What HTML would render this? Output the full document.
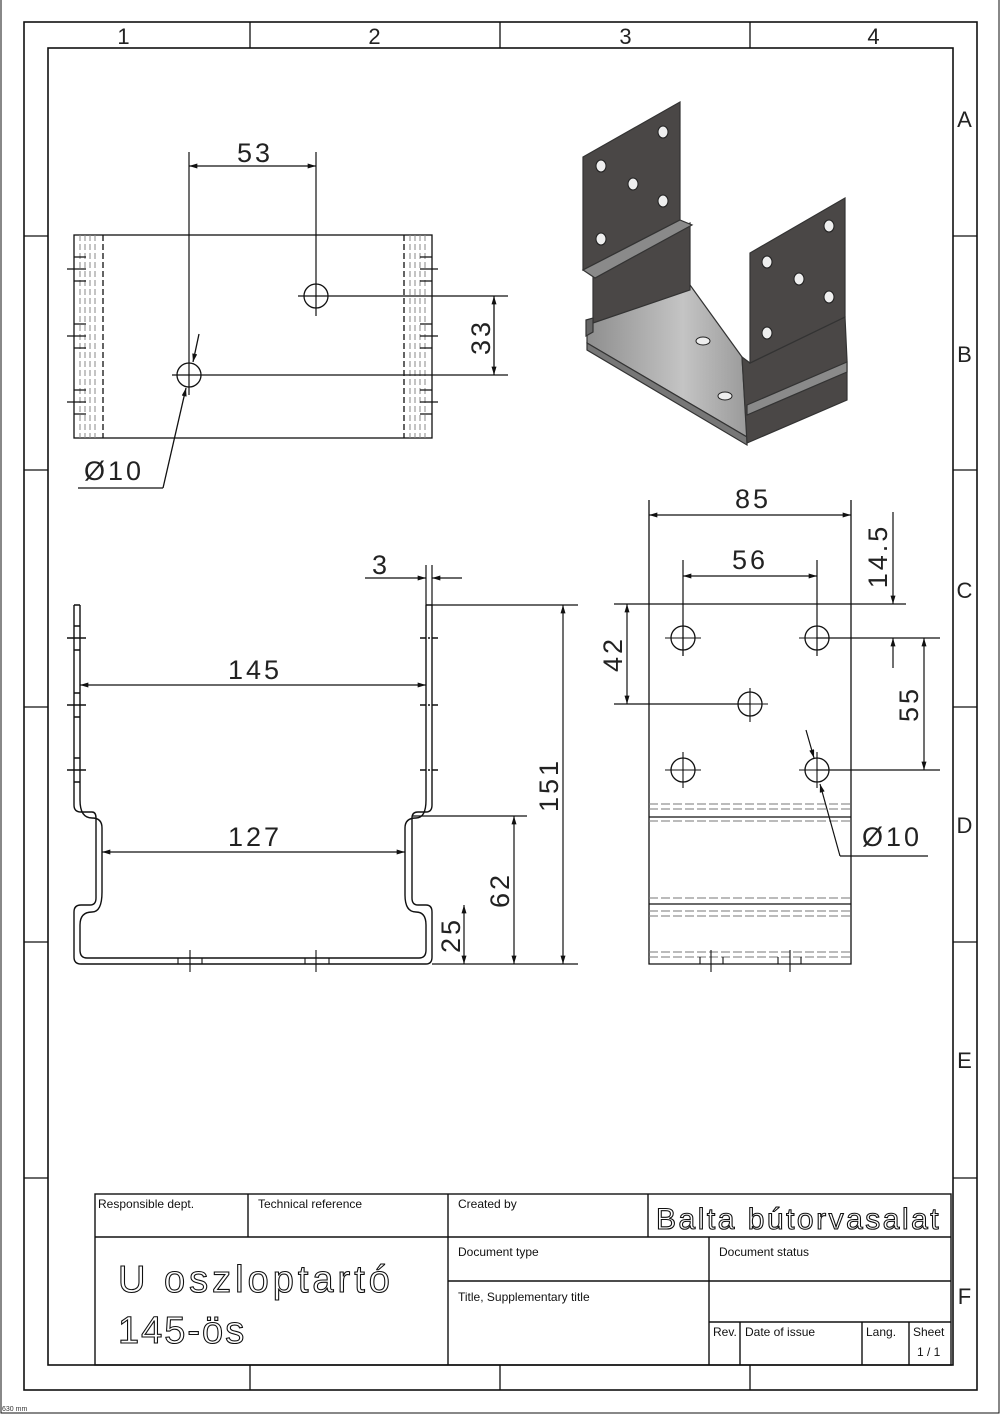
<!DOCTYPE html>
<html><head><meta charset="utf-8"><style>
html,body{margin:0;padding:0;background:#fff}
svg{display:block}
text{font-family:"Liberation Sans",sans-serif}
.d{font-size:27px;fill:#222;letter-spacing:3px}
.s{font-size:12px;fill:#111;font-family:"Liberation Sans Narrow","Liberation Sans",sans-serif}
</style></head><body>
<svg width="1000" height="1414" viewBox="0 0 1000 1414" xmlns="http://www.w3.org/2000/svg">
<defs>
<marker id="a" viewBox="0 0 10 6" refX="10" refY="3" markerWidth="12" markerHeight="5" orient="auto-start-reverse" markerUnits="userSpaceOnUse"><path d="M0,0 L10,3 L0,6z" fill="#111"/></marker>
<linearGradient id="fl" x1="0" y1="0" x2="1" y2="0"><stop offset="0" stop-color="#8e8e8e"/><stop offset="0.6" stop-color="#c4c4c4"/><stop offset="1" stop-color="#9a9a9a"/></linearGradient>
</defs>
<g fill="none" stroke="#111" stroke-width="1.3">
<path d="M1,0 V1413 H999 V0" stroke-width="1"/>
<rect x="24" y="22" width="953" height="1368" stroke-width="1.6"/>
<rect x="48" y="48" width="905" height="1317" stroke-width="1.6"/>
<path d="M250,22V48M500,22V48M750,22V48M250,1365V1390M500,1365V1390M750,1365V1390"/>
<path d="M24,236H48M24,470H48M24,707H48M24,942H48M24,1178H48M953,236H977M953,470H977M953,707H977M953,942H977M953,1178H977"/>
</g>
<g class="d" style="font-size:22px" text-anchor="middle">
<text x="125" y="44">1</text><text x="376" y="44">2</text><text x="627" y="44">3</text><text x="875" y="44">4</text>
<text x="966" y="127">A</text><text x="966" y="362">B</text><text x="966" y="598">C</text><text x="966" y="833">D</text><text x="966" y="1068">E</text><text x="966" y="1304">F</text>
</g>

<!-- TOP VIEW -->
<g fill="none" stroke="#111" stroke-width="1.3">
<rect x="74" y="235" width="358" height="203"/>
<path d="M103,235V438M404,235V438" stroke-dasharray="6,3"/>
<path d="M80,235V438M85,235V438M90,235V438M95,235V438M410,235V438M415,235V438M420,235V438M425,235V438" stroke="#888" stroke-width="1" stroke-dasharray="6,3"/>
<path d="M67,269H86M67,336H86M67,402H86M74,257H86M74,281H86M74,324H86M74,348H86M74,390H86M74,414H86"/>
<path d="M420,269H438M420,336H438M420,402H438M420,257H432M420,281H432M420,324H432M420,348H432M420,390H432M420,414H432"/>
<circle cx="316" cy="296" r="12"/><circle cx="189" cy="375" r="12"/>
<path d="M298,296H508M316,152V316M172,375H508M189,152V395" stroke-width="1.2"/>
<path d="M189,166H316" marker-start="url(#a)" marker-end="url(#a)"/>
<path d="M494,296V375" marker-start="url(#a)" marker-end="url(#a)"/>
<path d="M199,334L193,362" marker-end="url(#a)"/>
<path d="M163,488L186,388" marker-end="url(#a)"/>
<path d="M163,488H78"/>
</g>
<g class="d" text-anchor="middle">
<text x="255" y="162">53</text>
<text transform="translate(490,337) rotate(-90)">33</text>
<text x="114" y="480">Ø10</text>
</g>

<!-- ISO VIEW -->
<g stroke="#333" stroke-width="1.2">
<polygon points="587,323 593,320 690,285 742,357 747,437 587,343" fill="url(#fl)"/>
<polygon points="587,343 747,437 747,445 587,350" fill="#777"/>
<polygon points="593,277 690,223 690,290 593,323" fill="#4a4746"/>
<polygon points="586,320 593,318 593,332 586,336" fill="#666"/>
<polygon points="583,157 680,102 680,220 583,270" fill="#4a4746"/>
<polygon points="583,270 680,220 692,225 595,278" fill="#8a8a8a"/>
<polygon points="742,357 750,363 845,317 847,360 847,400 747,443" fill="#4a4746"/>
<polygon points="747,405 847,362 847,372 747,415" fill="#8a8a8a"/>
<polygon points="750,253 845,198 845,317 750,363" fill="#4a4746"/>
</g>
<g fill="#eee" stroke="#222">
<ellipse cx="663" cy="132" rx="5" ry="6"/><ellipse cx="601" cy="166" rx="5" ry="6"/><ellipse cx="633" cy="184" rx="5" ry="6"/><ellipse cx="663" cy="201" rx="5" ry="6"/><ellipse cx="601" cy="239" rx="5" ry="6"/>
<ellipse cx="829" cy="226" rx="5" ry="6"/><ellipse cx="767" cy="262" rx="5" ry="6"/><ellipse cx="799" cy="279" rx="5" ry="6"/><ellipse cx="829" cy="297" rx="5" ry="6"/><ellipse cx="767" cy="333" rx="5" ry="6"/>
<ellipse cx="703" cy="341" rx="7" ry="4"/><ellipse cx="725" cy="396" rx="7" ry="4"/>
</g>

<!-- FRONT VIEW -->
<g fill="none" stroke="#111" stroke-width="1.4">
<path d="M74,605V805Q74,812 81,812H92Q96,812 96,818V898Q96,905 90,905H81Q74,905 74,912V957Q74,964 81,964H426Q432,964 432,957V912Q432,905 426,905H418Q412,905 412,898V818Q412,812 418,812H426Q432,812 432,805V605"/>
<path d="M80,605V800Q80,818 92,818Q102,818 102,828V892Q102,912 92,912Q80,912 80,925V950Q80,958 87,958H419Q426,958 426,950V925Q426,912 416,912Q405,912 405,895V828Q405,818 416,818Q426,818 426,800V605"/>
<path d="M74,605H80M426,605H432"/>
<path d="M67,638H86M67,705H86M67,770H86M74,626H80M74,650H80M74,693H80M74,717H80M74,758H80M74,782H80"/>
<path d="M420,638H438M420,705H438M420,770H438" stroke-dasharray="6,2,2,2"/>
<path d="M178,958V964M202,958V964M305,958V964M329,958V964M190,950V972M316,950V972" stroke-width="1.1"/>
<path d="M80,685H426" marker-start="url(#a)" marker-end="url(#a)" stroke-width="1.2"/>
<path d="M102,852H405" marker-start="url(#a)" marker-end="url(#a)" stroke-width="1.2"/>
<path d="M426,565V605M432,565V605" stroke-width="1.2"/>
<path d="M365,578H426" marker-end="url(#a)" stroke-width="1.2"/>
<path d="M462,578H432" marker-end="url(#a)" stroke-width="1.2"/>
<path d="M432,605H578M432,964H578M412,816H527" stroke-width="1.2"/>
<path d="M563,605V964" marker-start="url(#a)" marker-end="url(#a)" stroke-width="1.2"/>
<path d="M514,816V964" marker-start="url(#a)" marker-end="url(#a)" stroke-width="1.2"/>
<path d="M464,905V964" marker-start="url(#a)" marker-end="url(#a)" stroke-width="1.2"/>
</g>
<g class="d" text-anchor="middle">
<text x="255" y="679">145</text>
<text x="255" y="846">127</text>
<text x="381" y="574">3</text>
<text transform="translate(558,785) rotate(-90)">151</text>
<text transform="translate(509,890) rotate(-90)">62</text>
<text transform="translate(460,935) rotate(-90)">25</text>
</g>

<!-- SIDE VIEW -->
<g fill="none" stroke="#111" stroke-width="1.3">
<path d="M649,500V964H851V500"/>
<path d="M649,817H851M649,904H851" stroke-width="1.3"/>
<path d="M649,804H851M649,809H851M649,821H851M649,898H851M649,911H851M649,916H851M649,952H851M649,957H851" stroke="#777" stroke-width="1" stroke-dasharray="9,3"/>
<path d="M700,957V964M723,957V964M778,957V964M801,957V964M711,950V972M790,950V972" stroke-width="1.1"/>
<circle cx="683" cy="638" r="12"/><circle cx="817" cy="638" r="12"/><circle cx="750" cy="704" r="12"/><circle cx="683" cy="770" r="12"/><circle cx="817" cy="770" r="12"/>
<path d="M665,638H701M683,620V656M734,704H768M750,688V722M665,770H701M683,752V788M799,770H835M817,752V788M799,638H835" stroke-width="1.1"/>
<path d="M683,560V656M817,560V656M817,638H940M817,770H940M614,604H906M614,704H750" stroke-width="1.2"/>
<path d="M649,515H851" marker-start="url(#a)" marker-end="url(#a)" stroke-width="1.2"/>
<path d="M683,576H817" marker-start="url(#a)" marker-end="url(#a)" stroke-width="1.2"/>
<path d="M627,604V704" marker-start="url(#a)" marker-end="url(#a)" stroke-width="1.2"/>
<path d="M924,638V770" marker-start="url(#a)" marker-end="url(#a)" stroke-width="1.2"/>
<path d="M893,512V604" marker-end="url(#a)" stroke-width="1.2"/>
<path d="M893,668V638" marker-end="url(#a)" stroke-width="1.2"/>
<path d="M806,730L814,758" marker-end="url(#a)" stroke-width="1.2"/>
<path d="M840,856L820,784" marker-end="url(#a)" stroke-width="1.2"/>
<path d="M840,856H928" stroke-width="1.2"/>
</g>
<g class="d" text-anchor="middle">
<text x="753" y="508">85</text>
<text x="750" y="569">56</text>
<text transform="translate(887,556) rotate(-90)">14.5</text>
<text transform="translate(622,654) rotate(-90)">42</text>
<text transform="translate(918,704) rotate(-90)">55</text>
<text x="892" y="846">Ø10</text>
</g>

<!-- TITLE BLOCK -->
<g fill="none" stroke="#111" stroke-width="1.4">
<rect x="95" y="1194" width="856" height="171"/>
<path d="M95,1237H951M248,1194V1237M448,1194V1365M648,1194V1237M448,1281H951M709,1237V1365M709,1322H951M740,1322V1365M862,1322V1365M909,1322V1365"/>
</g>
<g class="s">
<text x="98" y="1208">Responsible dept.</text>
<text x="258" y="1208">Technical reference</text>
<text x="458" y="1208">Created by</text>
<text x="458" y="1256">Document type</text>
<text x="719" y="1256">Document status</text>
<text x="458" y="1301">Title, Supplementary title</text>
<text x="713" y="1336">Rev.</text>
<text x="745" y="1336">Date of issue</text>
<text x="866" y="1336">Lang.</text>
<text x="913" y="1336">Sheet</text>
<text x="917" y="1356">1 / 1</text>
</g>
<g fill="#fff" stroke="#111" stroke-width="1.1" font-family="Liberation Sans Narrow, Liberation Sans, sans-serif">
<text x="656" y="1229" font-size="30" letter-spacing="2.5">Balta bútorvasalat</text>
<text x="118" y="1292" font-size="38" letter-spacing="4">U oszloptartó</text>
<text x="118" y="1343" font-size="38" letter-spacing="2">145-ös</text>
</g>
<text x="2" y="1411" font-size="7" fill="#333">630 mm</text>
</svg>
</body></html>
